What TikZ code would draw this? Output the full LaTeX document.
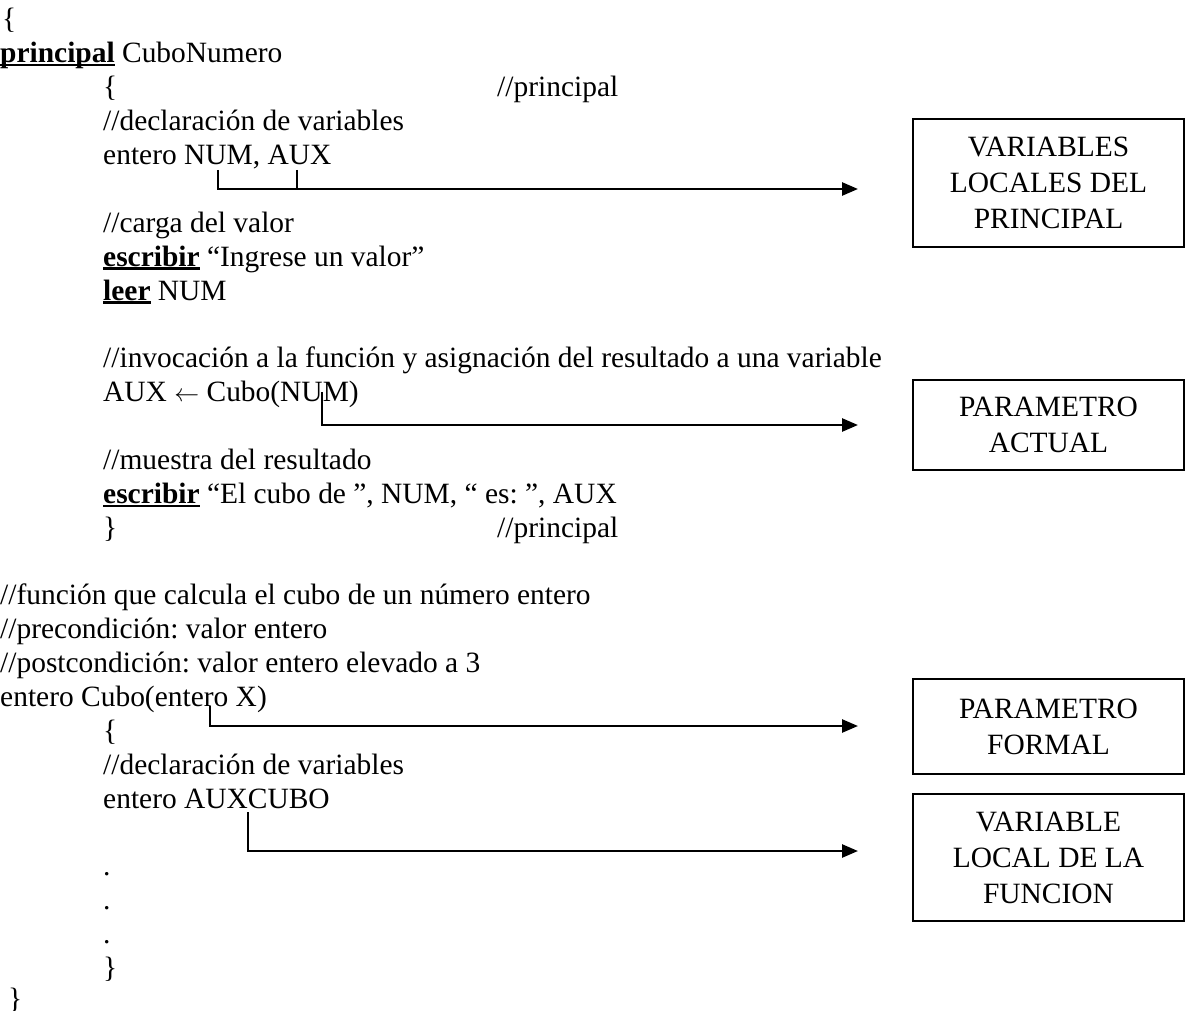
\documentclass[tikz,border=0pt]{standalone}
\usepackage{fontspec}
\setmainfont{Liberation Serif}
\usetikzlibrary{arrows.meta}
\frenchspacing
% bold keyword with a heavy underline
\newcommand\kwul[1]{\setbox0\hbox{\bfseries #1}\rlap{\rule[-3.5pt]{\wd0}{2.2pt}}\box0\relax}

\begin{document}
\begin{tikzpicture}[x=1pt,y=-1pt,
  code/.style={anchor=base west, inner sep=0pt, font=\fontsize{29.45}{33.87}\selectfont},
  tag/.style={draw, line width=2pt, anchor=north west, minimum width=271pt,
    align=center, inner sep=0pt, font=\fontsize{29.45}{36}\selectfont},
  link/.style={line width=2.6pt},
  pointer/.style={link, -{Triangle[length=16pt,width=13pt]}}]
\useasboundingbox (0,0) rectangle (1185,1011);

% program text
\node[code] (l0)  at (2,29)      {\{};
\node[code] (l1)  at (0,62.9)    {\kwul{principal} CuboNumero};
\node[code] (l2)  at (103,96.7)  {\{};
\node[code] (l2c) at (497,96.7)  {//principal};
\node[code] (l3)  at (103,130.6) {//declaración de variables};
\node[code] (l4)  at (103,164.5) {entero NUM, AUX};
\node[code] (l6)  at (103,232.2) {//carga del valor};
\node[code] (l7)  at (103,266.1) {\kwul{escribir} “Ingrese un valor”};
\node[code] (l8)  at (103,300.0) {\kwul{leer} NUM};
\node[code] (l10) at (103,367.7) {//invocación a la función y asignación del resultado a una variable};
\node[code] (l11) at (103,401.6) {AUX $\leftarrow$ Cubo(NUM)};
\node[code] (l13) at (103,469.3) {//muestra del resultado};
\node[code] (l14) at (103,503.2) {\kwul{escribir} “El cubo de ”, NUM, “ es: ”, AUX};
\node[code] (l15) at (103,537.1) {\}};
\node[code] (l15c) at (497,537.1) {//principal};
\node[code] (l17) at (0,604.8)   {//función que calcula el cubo de un número entero};
\node[code] (l18) at (0,638.7)   {//precondición: valor entero};
\node[code] (l19) at (0,672.5)   {//postcondición: valor entero elevado a 3};
\node[code] (l20) at (0,706.4)   {entero Cubo(entero X)};
\node[code] (l21) at (103,740.3) {\{};
\node[code] (l22) at (103,774.1) {//declaración de variables};
\node[code] (l23) at (103,808.0) {entero AUXCUBO};
\node[code] (l25) at (103,875.8) {.};
\node[code] (l26) at (103,909.6) {.};
\node[code] (l27) at (103,943.5) {.};
\node[code] (l28) at (103,977.4) {\}};
\node[code] (l29) at (8,1008.5)  {\}};

% explanation boxes
\node[tag, minimum height=128pt] (b1) at (912,118) {VARIABLES\\LOCALES DEL\\PRINCIPAL};
\node[tag, minimum height=90pt]  (b2) at (912,379) {PARAMETRO\\ACTUAL};
\node[tag, minimum height=95pt]  (b3) at (912,678) {PARAMETRO\\FORMAL};
\node[tag, minimum height=127pt] (b4) at (912,793) {VARIABLE\\LOCAL DE LA\\FUNCION};

% tick tops under the marked identifiers, and arrow ends
\coordinate (t1) at (218,170);
\coordinate (t2) at (297,170);
\coordinate (e1) at (858,189);
\coordinate (t3) at (322,392);
\coordinate (e2) at (858,425);
\coordinate (t4) at (210,706);
\coordinate (e3) at (858,726);
\coordinate (t5) at (248,812);
\coordinate (e4) at (858,851);

% connectors
\draw[pointer] (t1) |- (e1);
\draw[link] (t2) -- (t2 |- e1);
\draw[pointer] (t3) |- (e2);
\draw[pointer] (t4) |- (e3);
\draw[pointer] (t5) |- (e4);
\end{tikzpicture}
\end{document}
